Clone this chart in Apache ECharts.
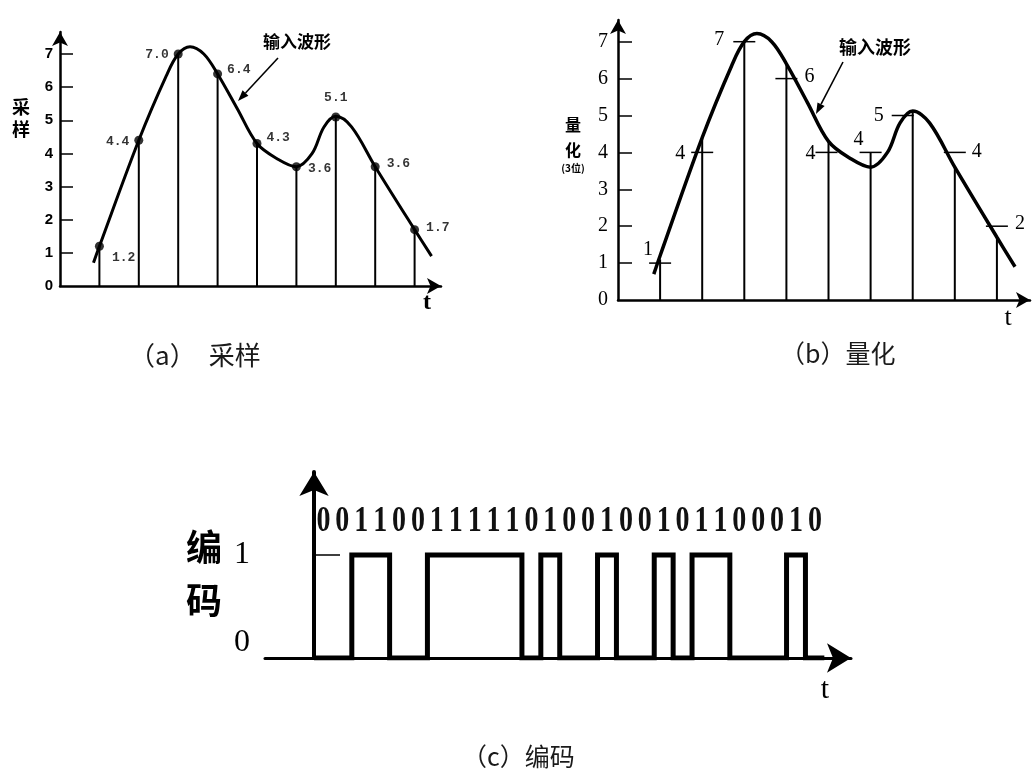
<!DOCTYPE html>
<html><head><meta charset="utf-8">
<script src="https://cdn.jsdelivr.net/npm/echarts@6/dist/echarts.min.js"></script>
<style>html,body{margin:0;padding:0;background:#fff}#c{width:1035px;height:769px}</style>
</head><body><div id="c"></div>
<script>
// ---------- data ----------
var sampleT = [1, 2, 3, 4, 5, 6, 7, 8, 9];
var sampleV = [1.2, 4.4, 7.0, 6.4, 4.3, 3.6, 5.1, 3.6, 1.7];
var curveT = [0.85, 1, 2, 2.7, 3, 3.3, 3.65, 4, 4.5, 5, 5.5, 6, 6.4, 6.7, 7, 7.4, 8, 9, 9.43];
var curveV = [0.7, 1.2, 4.4, 6.35, 7.0, 7.22, 7.0, 6.4, 5.35, 4.3, 3.85, 3.6, 4.0, 4.8, 5.12, 4.8, 3.6, 1.7, 0.9];
var quantV = [1, 4, 7, 6, 4, 4, 5, 4, 2];
var quantStemV = [1.1, 4.4, 7.0, 6.4, 4.3, 4.0, 5.1, 3.6, 1.7];
var bits = [0,0,1,1,0,0,1,1,1,1,1,0,1,0,0,1,0,0,1,0,1,1,0,0,0,1,0];
var yTicksAB = [0, 1, 2, 3, 4, 5, 6, 7];
var yTicksC = [0, 1];

// ---------- label placement (style) ----------
var sampleLabelPos = ['right','left','left','right','right','right','top','right','right'];
var sampleLabelOff = [[3,11],[0,2],[0,1],[0,-4],[0,-6],[2,2],[0,-3],[2,-3],[2,-2]];
var quantLabelOff = [[-12,-13],[-22,1],[-25,-2],[23,-2],[-18,1],[-12,-13],[-34,0],[22,-1],[23,-2]];
var quantTickShift = [0,0,0,0,-2,0,-10,0,0];

var curveData = curveT.map(function(t,i){return [t, curveV[i]];});
var sampleData = sampleT.map(function(t,i){return [t, sampleV[i]];});
var quantStemData = sampleT.map(function(t,i){return [t, quantStemV[i]];});
var quantData = sampleT.map(function(t,i){return [t, quantV[i], i];});
var waveData = bits.map(function(b,i){return [i, b];});
waveData.push([bits.length, bits[bits.length-1]]);
var bitTextData = bits.map(function(b,i){return [i + 0.5, 1.32, b];});

var SERIF = '"Liberation Serif", "DejaVu Serif", serif';
var SANS = '"Liberation Sans", Arial, sans-serif';
var CJK = '"Noto Sans CJK SC", sans-serif';

function stemRender(params, api){
  var p0 = api.coord([api.value(0), 0]);
  var p1 = api.coord([api.value(0), api.value(1)]);
  return {type:'line', shape:{x1:p0[0], y1:p0[1], x2:p1[0], y2:p1[1]}, style:{stroke:'#000', lineWidth:2}};
}

function isInt(v){ return Math.abs(v - Math.round(v)) < 1e-6; }

function abYAxis(gi, max, fontFamily, fontSize, fontWeight, margin, tickLen){
  return {
    gridIndex: gi, type:'value', min:0, max:max, interval:1,
    splitLine:{show:false},
    axisLine:{show:true, symbol:['none','arrow'], symbolSize:[12,14], lineStyle:{color:'#000', width:2.5}},
    axisTick:{show:true, inside:true, length:tickLen, customValues:[1,2,3,4,5,6,7], lineStyle:{color:'#000', width:1.5}},
    axisLabel:{show:true, customValues:yTicksAB, margin:margin, color:'#000', fontFamily:fontFamily, fontSize:fontSize, fontWeight:fontWeight,
      formatter:function(v){ return (isInt(v) && v <= 7) ? String(Math.round(v)) : ''; }}
  };
}
function plainXAxis(gi, min, max, width, symSize){
  return {
    gridIndex: gi, type:'value', min:min, max:max,
    splitLine:{show:false}, axisTick:{show:false}, axisLabel:{show:false},
    axisLine:{show:true, onZero:false, symbol:['none','arrow'], symbolSize:symSize, lineStyle:{color:'#000', width:width}}
  };
}

function arrow(x1,y1,x2,y2,head,w){
  var a = Math.atan2(y2-y1, x2-x1);
  var bx = x2 - head*Math.cos(a), by = y2 - head*Math.sin(a);
  var px = -Math.sin(a)*w/2, py = Math.cos(a)*w/2;
  return [
    {type:'line', shape:{x1:x1,y1:y1,x2:bx,y2:by}, style:{stroke:'#000', lineWidth:1.6}},
    {type:'polygon', shape:{points:[[x2,y2],[bx+px,by+py],[bx-px,by-py]]}, style:{fill:'#000'}}
  ];
}
function txt(x, y, text, size, family, weight, extra){
  var s = {text:text, fontSize:size, fontFamily:family, fontWeight:weight||'normal', fill:'#000', align:'center', verticalAlign:'middle'};
  if (extra) for (var k in extra) s[k] = extra[k];
  return {type:'text', x:x, y:y, style:s, z:10};
}

var chart = echarts.init(document.getElementById('c'));
var graphics = [
  txt(21, 118, '采\n样', 18, CJK, 'bold', {lineHeight:22}),
  txt(297, 42, '输入波形', 17, CJK, 'bold'),
  txt(427, 303, 't', 24, SERIF, 'bold'),
  txt(573, 137, '量\n化', 16, CJK, 'bold', {lineHeight:25}),
  txt(573, 168, '(3位)', 10, CJK, 'bold'),
  txt(875, 47, '输入波形', 18, CJK, 'bold'),
  txt(1008, 318, 't', 26, SERIF),
  txt(204, 574, '编\n码', 36, CJK, 'bold', {lineHeight:53}),
  txt(825, 690, 't', 30, SERIF),
  txt(129, 355, '（a）　采样', 26, CJK, 'normal', {align:'left', fill:'#1a1a1a'}),
  txt(780, 353, '（b）量化', 25, CJK, 'normal', {align:'left', fill:'#1a1a1a'}),
  txt(462, 756, '（c）编码', 25, CJK, 'normal', {align:'left', fill:'#1a1a1a'})
].concat(arrow(278, 58, 238, 101, 11, 8)).concat(arrow(843, 62, 816, 114, 11, 8));

chart.setOption({
  animation:false,
  backgroundColor:'#ffffff',
  grid:[
    {left:60, top:32, width:381, height:254},
    {left:618, top:20, width:412, height:280},
    {left:265, top:472, width:586, height:186}
  ],
  xAxis:[
    plainXAxis(0, 0, 9.67, 2.5, [12,14]),
    plainXAxis(1, 0, 9.786, 2.5, [12,14]),
    plainXAxis(2, -2.593, 28.41, 3, [22,24])
  ],
  yAxis:[
    abYAxis(0, 7.665, SANS, 15, 'bold', 7, 13),
    abYAxis(1, 7.588, SERIF, 20, 'normal', 10, 14),
    {
      gridIndex:2, type:'value', min:0, max:1.806, interval:1, splitLine:{show:false},
      axisLine:{show:true, symbol:['none','arrow'], symbolSize:[22,24], lineStyle:{color:'#000', width:4}},
      axisTick:{show:true, inside:true, length:26, customValues:[1], lineStyle:{color:'#000', width:1.5}},
      axisLabel:{show:true, customValues:yTicksC, margin:15,
        formatter:function(v){ return v === 0 ? '{z|0}' : (v === 1 ? '{o|1}' : ''); },
        rich:{
          z:{fontSize:32, fontFamily:SERIF, color:'#000', padding:[0,0,30,0]},
          o:{fontSize:32, fontFamily:SERIF, color:'#000'}
        }}
    }
  ],
  series:[
    {type:'line', xAxisIndex:0, yAxisIndex:0, data:curveData, smooth:0.35, symbol:'none', silent:true,
      lineStyle:{color:'#000', width:3}, z:3},
    {type:'custom', xAxisIndex:0, yAxisIndex:0, data:sampleData, renderItem:stemRender, silent:true, z:2},
    {type:'scatter', xAxisIndex:0, yAxisIndex:0, symbolSize:9, itemStyle:{color:'#000'}, silent:true, z:4,
      data:sampleData.map(function(d,i){ return {value:d, label:{position:sampleLabelPos[i], offset:sampleLabelOff[i]}}; }),
      label:{show:true, distance:5, color:'#000', fontFamily:'"Liberation Mono", monospace', fontWeight:'bold', fontSize:13,
        formatter:function(p){ return p.value[1].toFixed(1); }}},

    {type:'line', xAxisIndex:1, yAxisIndex:1, data:curveData, smooth:0.35, symbol:'none', silent:true,
      lineStyle:{color:'#000', width:3.5}, z:3},
    {type:'custom', xAxisIndex:1, yAxisIndex:1, data:quantStemData, renderItem:stemRender, silent:true, z:2},
    {type:'custom', xAxisIndex:1, yAxisIndex:1, data:quantData, silent:true, z:4,
      renderItem:function(params, api){
        var i = api.value(2);
        var p = api.coord([api.value(0), api.value(1)]);
        var cx = p[0] + quantTickShift[i];
        return {type:'group', children:[
          {type:'line', shape:{x1:cx-11, y1:p[1], x2:cx+11, y2:p[1]}, style:{stroke:'#000', lineWidth:1.5}},
          {type:'text', x:p[0] + quantLabelOff[i][0], y:p[1] + quantLabelOff[i][1],
            style:{text:String(api.value(1)), fontSize:20, fontFamily:SERIF, fill:'#000', align:'center', verticalAlign:'middle'}}
        ]};
      }},

    {type:'line', xAxisIndex:2, yAxisIndex:2, data:waveData, step:'end', symbol:'none', silent:true,
      lineStyle:{color:'#000', width:5, join:'miter', cap:'butt'}, z:3},
    {type:'custom', xAxisIndex:2, yAxisIndex:2, data:bitTextData, silent:true, z:4,
      renderItem:function(params, api){
        var p = api.coord([api.value(0), api.value(1)]);
        return {type:'text', x:p[0], y:p[1], scaleY:1.3,
          style:{text:String(api.value(2)), fontSize:28, fontFamily:SERIF, fontWeight:'bold', fill:'#111', align:'center', verticalAlign:'middle'}};
      }}
  ],
  graphic:graphics
});
</script></body></html>
